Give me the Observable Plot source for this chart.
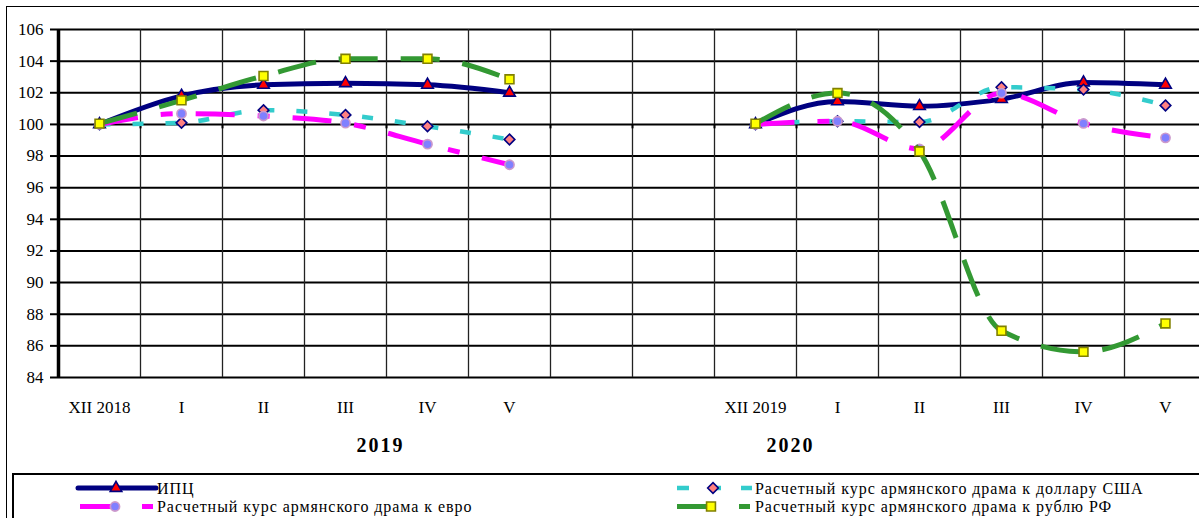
<!DOCTYPE html>
<html><head><meta charset="utf-8">
<script src="https://cdn.jsdelivr.net/npm/d3@7"></script>
<script src="https://cdn.jsdelivr.net/npm/@observablehq/plot@0.6"></script>
<style>
html,body{margin:0;padding:0;background:#fff;overflow:hidden;width:1199px;height:518px;}
#wrap{position:relative;width:1199px;height:518px;overflow:hidden;font-family:"Liberation Serif","DejaVu Serif",serif;}
#chart{position:absolute;left:0;top:0;}
#frame{position:absolute;left:6px;top:6px;width:1300px;height:600px;border:1.5px solid #000;box-sizing:border-box;}
#lbox{position:absolute;left:12px;top:473px;width:1300px;height:100px;border:2px solid #000;box-sizing:border-box;background:#fff;}
#legend{position:absolute;left:0;top:0;}
</style></head>
<body><div id="wrap"><div id="chart"></div><div id="frame"></div><div id="lbox"></div><svg id="legend" width="1199" height="518"></svg></div>
<script>
// ---- data ----
const categories = ["XII 2018","I 2019","II 2019","III 2019","IV 2019","V 2019","gap1","gap2","XII 2019","I 2020","II 2020","III 2020","IV 2020","V 2020"];
const tickLabels = ["XII 2018","I","II","III","IV","V","","","XII 2019","I","II","III","IV","V"];
const yTicks = [84,86,88,90,92,94,96,98,100,102,104,106];
const yearLabels = ["2019","2020"];
const yearAnchors = ["III 2019","XII 2019"];
const cpi = [100,101.8,102.5,102.6,102.5,102.0,null,null,100,101.45,101.15,101.6,102.65,102.5];
const usd = [100,100.1,100.9,100.6,99.88,99.05,null,null,100,100.2,100.15,102.35,102.2,101.2];
const eur = [100,100.68,100.53,100.08,98.75,97.45,null,null,100,100.2,98.45,101.98,100.06,99.15];
const rub = [100.05,101.52,103.06,104.15,104.15,102.85,null,null,100.05,101.98,98.3,86.95,85.62,87.42];
const legendNames = ["ИПЦ","Расчетный курс армянского драма к доллару США","Расчетный курс армянского драма к евро","Расчетный курс армянского драма к рублю РФ"];

// ---- style ----
const xRange = [58, 1206];
const step = (xRange[1]-xRange[0]) / categories.length;
const rows = s => categories.map((c,i) => ({x: c, y: s[i]}));
const series = [
  {v: cpi, stroke:"#000080", width:5, dash:null, symbol:"triangle", r:4.3, fill:"#ff0000", mstroke:"#000080"},
  {v: usd, stroke:"#33cccc", width:4.5, dash:"11,22", symbol:"diamond2", r:4.8, fill:"#ff8080", mstroke:"#000080"},
  {v: eur, stroke:"#ff00ff", width:5, dash:"39,23,12,23", symbol:"circle", r:4.6, fill:"#8080ff", mstroke:"#cc99cc"},
  {v: rub, stroke:"#339933", width:5, dash:"39,23", symbol:"square", r:5, fill:"#ffff00", mstroke:"#808000"}
];

const marks = [
  Plot.ruleY(yTicks, {stroke:"#000", strokeWidth:2}),
  Plot.ruleX(categories, {dx: step/2, stroke:"#222", strokeWidth:1.3}),
  Plot.ruleX(categories, {dx: step/2, y1:100, y2:99.72, stroke:"#000", strokeWidth:2}),
  Plot.ruleX([categories[0]], {dx: -step/2, stroke:"#000", strokeWidth:3.5}),
  Plot.axisY({ticks: yTicks, tickSize: 8, tickPadding: 7, fontSize: 17, strokeWidth: 2, label: null}),
  Plot.axisX({tickSize: 0, tickPadding: 23, fontSize: 17, tickFormat: d => tickLabels[categories.indexOf(d)], label: null})
];
for (const s of series) {
  marks.push(Plot.line(rows(s.v), {x:"x", y:"y", stroke:s.stroke, strokeWidth:s.width, strokeDasharray:s.dash, strokeLinecap: s.dash ? "butt" : "round", curve:"monotone-x"}));
  marks.push(Plot.dot(rows(s.v).filter(d => d.y != null), {x:"x", y:"y", symbol:s.symbol, r:s.r, fill:s.fill, stroke:s.mstroke, strokeWidth:1.6}));
}
yearLabels.forEach((t,i) => {
  marks.push(Plot.text([t], {x: () => yearAnchors[i], text: d => d, frameAnchor:"bottom", dx: 35, dy: 74, fontSize: 20, fontWeight:"bold"}));
});

const chart = Plot.plot({
  width: 1199, height: 474,
  marginLeft: 58, marginRight: 0, marginTop: 29, marginBottom: 97,
  style: {fontFamily: '"Liberation Serif","DejaVu Serif",serif', background: "transparent", color: "#000"},
  x: {type: "point", domain: categories, range: xRange, padding: 0.5},
  y: {domain: [84, 106]},
  marks
});
document.getElementById("chart").appendChild(chart);
d3.select(chart).selectAll("text").filter(function(){ return yearLabels.includes(this.textContent); }).attr("letter-spacing","2px");

// ---- legend ----
const lg = d3.select("#legend");
const sym = (type, r) => d3.symbol(type, Math.PI*r*r)();
const items = [
  {x1:78, x2:156, mx:116, y:488, tx:157, s:series[0]},
  {x1:677, x2:752, mx:713, y:488, tx:755, s:series[1], dash:"12,20"},
  {x1:80, x2:153, mx:115, y:506.5, tx:157, s:series[2], dash:"39,23,12,23"},
  {x1:677, x2:750, mx:711, y:506.5, tx:755, s:series[3], dash:"35,27"}
];
const symMap = {triangle: d3.symbolTriangle, diamond2: d3.symbolDiamond2, circle: d3.symbolCircle, square: d3.symbolSquare};
items.forEach((it,i) => {
  lg.append("line").attr("x1",it.x1).attr("x2",it.x2).attr("y1",it.y).attr("y2",it.y)
    .attr("stroke",it.s.stroke).attr("stroke-width",it.s.width)
    .attr("stroke-dasharray", it.dash || null).attr("stroke-linecap", it.dash ? "butt" : "round");
  lg.append("path").attr("d", sym(symMap[it.s.symbol], it.s.r)).attr("transform",`translate(${it.mx},${it.y})`)
    .attr("fill",it.s.fill).attr("stroke",it.s.mstroke).attr("stroke-width",1.6);
  lg.append("text").attr("x",it.tx).attr("y",it.y).attr("dy","0.35em").attr("font-size",16)
    .attr("font-family",'"Liberation Serif","DejaVu Serif",serif').attr("letter-spacing","0.95px").text(legendNames[i]);
});
</script></body></html>
